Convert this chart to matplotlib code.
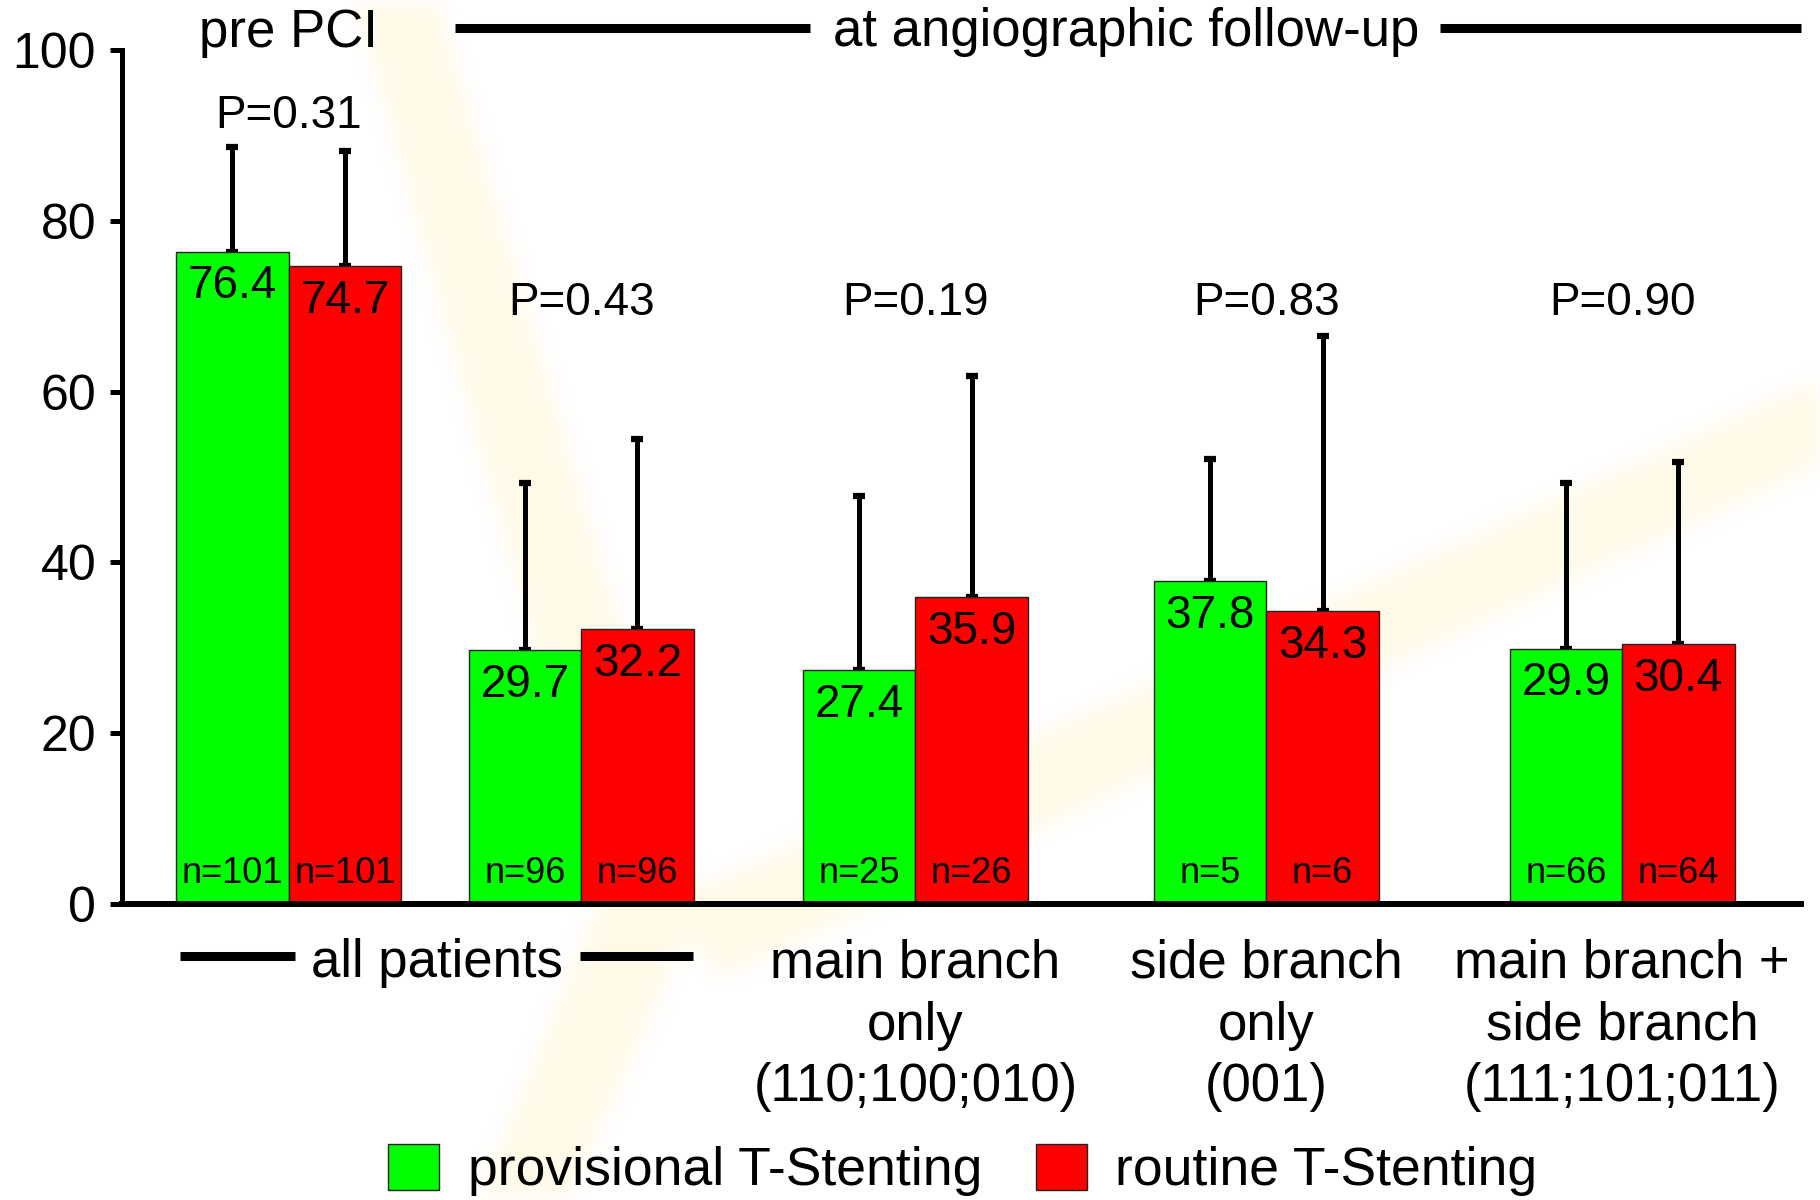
import numpy as np
import matplotlib
matplotlib.use("Agg")
import matplotlib.pyplot as plt
from matplotlib.patches import Patch
from matplotlib.path import Path
from matplotlib.transforms import blended_transform_factory

plt.rcParams['font.family'] = ['Liberation Sans', 'DejaVu Sans']

# mean values per subgroup (provisional vs routine T-stenting)
groups = ['pre', 'all', 'main', 'side', 'both']
provisional = [76.4, 29.7, 27.4, 37.8, 29.9]
routine = [74.7, 32.2, 35.9, 34.3, 30.4]
provisional_sd = [12.2, 19.6, 20.4, 14.3, 19.4]
routine_sd = [13.5, 22.2, 25.9, 32.2, 21.3]
provisional_n = [101, 96, 25, 5, 66]
routine_n = [101, 96, 26, 6, 64]
p_values = ['0.31', '0.43', '0.19', '0.83', '0.90']
category_labels = ['main branch\nonly\n(110;100;010)',
                   'side branch\nonly\n(001)',
                   'main branch +\nside branch\n(111;101;011)']

# layout
centers = np.array([1.48, 4.08, 7.05, 10.17, 13.33])
p_label_y = [90.9, 69, 69, 69, 69]
GREEN = '#00ff00'
RED = '#ff0000'
W, H = 1820, 1200

fig = plt.figure(figsize=(18.2, 12), dpi=100)

# faint, soft-edged logo in the background
yy, xx = np.mgrid[0:H:2, 0:W:2]
pts = np.column_stack([xx.ravel(), yy.ravel()])
mask = np.zeros(xx.size)
for poly in ([(357, 0), (435, 0), (700, 905), (606, 905)],
             [(1820, 378), (1820, 462), (720, 975), (660, 905)],
             [(604, 890), (700, 900), (565, 1200), (478, 1200)]):
    mask = np.maximum(mask, Path(poly).contains_points(pts))
mask = mask.reshape(xx.shape)
k = np.ones(9) / 9
for _ in range(3):
    mask = np.apply_along_axis(lambda r: np.convolve(r, k, mode='same'), 1, mask)
    mask = np.apply_along_axis(lambda c: np.convolve(c, k, mode='same'), 0, mask)
rgba = np.zeros(mask.shape + (4,))
rgba[..., 0] = 1.0
rgba[..., 1] = 0.9
rgba[..., 2] = 0.55
rgba[..., 3] = 0.2 * mask
bg = fig.add_axes([0, 0, 1, 1], zorder=-1)
bg.imshow(rgba, extent=(0, W, H, 0), aspect='auto', interpolation='bilinear')
bg.axis('off')

ax = fig.add_axes([122 / W, 1 - 904 / H, (1801 - 122) / W, (904 - 50) / H])
ax.patch.set_alpha(0)

ax.bar(centers - 0.5, provisional, width=1.0, color=GREEN,
       edgecolor='#222222', linewidth=1, zorder=2)
ax.bar(centers + 0.5, routine, width=1.0, color=RED,
       edgecolor='#222222', linewidth=1, zorder=2)

zeros = np.zeros(len(groups))
ax.errorbar(centers - 0.5, provisional, yerr=[zeros, provisional_sd], fmt='none',
            ecolor='black', elinewidth=3.6, capsize=4.5, capthick=4.5, zorder=1)
ax.errorbar(centers + 0.5, routine, yerr=[zeros, routine_sd], fmt='none',
            ecolor='black', elinewidth=3.6, capsize=4.5, capthick=4.5, zorder=1)

for i in range(len(groups)):
    for dx, val, n in ((-0.5, provisional[i], provisional_n[i]),
                       (0.5, routine[i], routine_n[i])):
        ax.annotate(f'{val:.1f}', (centers[i] + dx, val), xytext=(0, -9),
                    textcoords='offset points', ha='center', va='top',
                    fontsize=33, zorder=3)
        ax.annotate(f'n={n}', (centers[i] + dx, 0), xytext=(0, 15),
                    textcoords='offset points', ha='center', va='baseline',
                    fontsize=26, zorder=3)
    ax.text(centers[i], p_label_y[i], f'P={p_values[i]}', ha='center',
            va='baseline', fontsize=33)

ax.set_xlim(0, 14.92)
ax.set_ylim(0, 100)
ax.set_yticks(np.arange(0, 101, 20))
ax.set_xticks([])
for s in ('top', 'right'):
    ax.spines[s].set_visible(False)
ax.spines['left'].set_linewidth(3.6)
ax.spines['bottom'].set_linewidth(4.3)
ax.tick_params(axis='y', direction='out', length=8.6, width=3.6,
               labelsize=36, pad=10)

# headers above and group labels below the axis
tr = blended_transform_factory(ax.transData, ax.transAxes)
def frac(py):
    return (904 - py) / 854

ax.text(centers[0], frac(47), 'pre PCI', transform=tr, ha='center',
        va='baseline', fontsize=38, clip_on=False)
ax.text(8.92, frac(46), 'at angiographic follow-up', transform=tr,
        ha='center', va='baseline', fontsize=38, clip_on=False)
for x0, x1 in ((2.96, 6.11), (11.71, 14.92)):
    ax.plot([x0, x1], [frac(28)] * 2, transform=tr, color='black',
            lw=6.5, solid_capstyle='butt', clip_on=False)

ax.text(2.8, frac(977), 'all patients', transform=tr, ha='center',
        va='baseline', fontsize=38, clip_on=False)
for x0, x1 in ((0.516, 1.538), (4.07, 5.07)):
    ax.plot([x0, x1], [frac(956)] * 2, transform=tr, color='black',
            lw=6.5, solid_capstyle='butt', clip_on=False)

for c, lab in zip(centers[2:], category_labels):
    ax.text(c, frac(939), lab, transform=tr, ha='center', va='top',
            fontsize=38, linespacing=1.3, clip_on=False)

handles = [Patch(facecolor=GREEN, edgecolor='#222222', linewidth=1),
           Patch(facecolor=RED, edgecolor='#222222', linewidth=1)]
fig.legend(handles, ['provisional T-Stenting', 'routine T-Stenting'],
           loc='center left', bbox_to_anchor=(388 / W, 1 - 1170 / H),
           ncol=2, frameon=False, fontsize=38.5, borderpad=0,
           borderaxespad=0, handlelength=0.96, handleheight=0.97,
           handletextpad=0.53, columnspacing=1.0)

fig.savefig('out.png', dpi=100)
